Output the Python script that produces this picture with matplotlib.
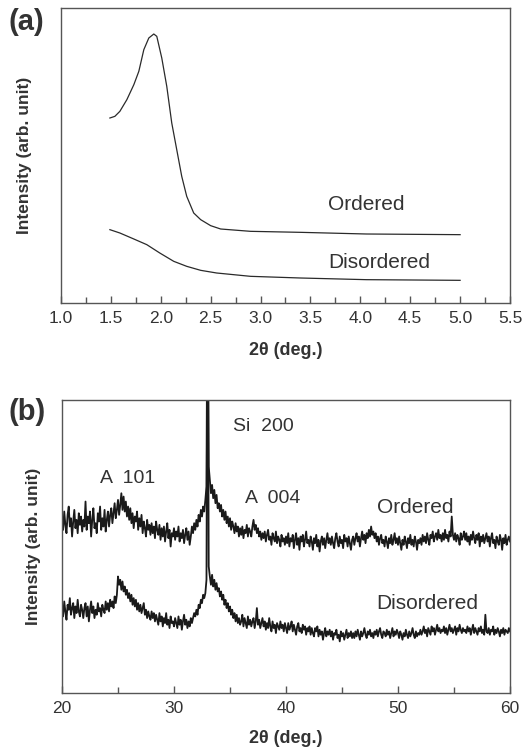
"""Small-angle and wide-angle XRD patterns: ordered vs disordered films."""

import matplotlib
matplotlib.use("Agg")
import matplotlib.pyplot as plt
import numpy as np
from matplotlib.ticker import MultipleLocator

plt.rcParams["font.family"] = ["Liberation Sans", "DejaVu Sans"]

TXT = "#333333"
SPINE = "#555555"
LINE = "#1a1a1a"

# ---- (a) small-angle XRD ----
saxs_ordered_x = [1.49, 1.54, 1.59, 1.66, 1.73, 1.78, 1.83, 1.88, 1.93, 1.96,
                  2.01, 2.06, 2.11, 2.16, 2.21, 2.26, 2.33, 2.40, 2.50, 2.60,
                  2.90, 3.40, 4.06, 5.00]
saxs_ordered_y = [555, 560, 575, 610, 655, 695, 760, 795, 807, 800,
                  735, 650, 540, 460, 380, 320, 270, 250, 232, 222,
                  215, 212, 207, 205]

saxs_disordered_x = [1.49, 1.59, 1.73, 1.86, 1.99, 2.13, 2.26, 2.40, 2.56,
                     2.90, 3.40, 4.06, 5.00]
saxs_disordered_y = [220, 210, 192, 175, 150, 125, 110, 98, 90,
                     80, 75, 70, 68]

# ---- (b) wide-angle XRD, 0.1 deg step from 20 to 60 (one row = 2 deg) ----
waxs_ordered = [
    530, 490, 545, 505, 480, 535, 560, 500, 525, 470, 515, 550, 495, 520, 480, 540, 505, 530, 485, 520,
    500, 575, 490, 530, 510, 545, 470, 520, 555, 495, 510, 480, 540, 515, 560, 490, 525, 500, 550, 485,
    520, 545, 500, 535, 555, 510, 540, 570, 525, 550, 580, 535, 565, 600, 550, 590, 545, 575, 530, 560,
    520, 555, 510, 540, 495, 530, 515, 545, 490, 525, 500, 535, 480, 515, 495, 470, 520, 490, 505, 475,
    510, 480, 500, 465, 515, 490, 475, 505, 460, 495, 470, 500, 455, 485, 510, 465, 490, 440, 480, 470,
    495, 460, 485, 470, 500, 455, 480, 465, 490, 450, 475, 495, 460, 485, 445, 470, 500, 480, 510, 490,
    520, 500, 535, 515, 550, 530, 560, 545, 580, 620, 1400, 680, 640, 600, 625, 585, 610, 570, 595, 555,
    570, 545, 565, 530, 550, 520, 545, 510, 530, 500, 525, 490, 515, 500, 480, 510, 485, 500, 470, 495,
    475, 500, 465, 490, 480, 505, 470, 495, 485, 470, 500, 520, 490, 505, 480, 495, 470, 485, 460, 480,
    465, 485, 455, 475, 490, 460, 470, 445, 480, 465, 455, 485, 450, 470, 460, 440, 475, 455, 465, 445,
    470, 450, 480, 440, 465, 455, 475, 435, 460, 480, 445, 465, 430, 470, 455, 475, 440, 460, 485, 450,
    460, 440, 470, 455, 430, 465, 450, 475, 440, 460, 425, 455, 470, 445, 465, 435, 460, 480, 450, 465,
    445, 470, 450, 435, 465, 480, 455, 440, 470, 450, 460, 435, 475, 455, 465, 440, 470, 450, 430, 460,
    470, 445, 465, 480, 455, 470, 440, 465, 485, 460, 475, 450, 480, 465, 490, 470, 500, 475, 485, 465,
    480, 455, 470, 445, 465, 475, 450, 460, 440, 470, 455, 435, 465, 450, 475, 445, 460, 480, 450, 465,
    445, 470, 450, 430, 460, 445, 470, 455, 435, 465, 450, 475, 445, 460, 440, 470, 455, 430, 460, 450,
    465, 445, 475, 455, 470, 450, 480, 460, 445, 475, 465, 485, 455, 470, 480, 460, 490, 465, 475, 455,
    480, 460, 490, 465, 475, 455, 485, 470, 530, 475, 460, 480, 455, 475, 465, 445, 480, 460, 470, 485,
    460, 480, 455, 470, 445, 475, 460, 485, 465, 450, 475, 460, 480, 440, 470, 455, 475, 450, 465, 480,
    455, 470, 440, 465, 480, 450, 460, 435, 470, 455, 445, 475, 460, 430, 465, 450, 475, 445, 460, 470,
    455,
]
waxs_disordered = [
    260, 230, 275, 245, 220, 265, 250, 285, 235, 255, 270, 225, 260, 240, 280, 245, 230, 265, 250, 225,
    255, 270, 230, 260, 215, 250, 275, 240, 260, 225, 250, 235, 270, 245, 255, 230, 265, 250, 240, 275,
    250, 270, 245, 280, 260, 275, 255, 290, 270, 295, 350, 325, 340, 310, 335, 305, 320, 295, 310, 285,
    300, 275, 295, 265, 285, 260, 280, 250, 270, 245, 265, 240, 255, 270, 235, 250, 225, 245, 230, 220,
    245, 225, 240, 215, 235, 220, 205, 240, 215, 230, 200, 225, 210, 240, 205, 220, 195, 230, 210, 215,
    200, 225, 210, 195, 230, 205, 220, 190, 215, 235, 205, 220, 195, 215, 200, 225, 210, 225, 240, 230,
    250, 235, 265, 255, 280, 270, 295, 285, 300, 340, 1400, 380, 350, 325, 355, 320, 340, 310, 330, 305,
    315, 290, 305, 280, 295, 265, 280, 255, 270, 245, 260, 235, 250, 225, 240, 215, 235, 210, 225, 205,
    215, 235, 200, 225, 210, 195, 230, 205, 220, 200, 215, 225, 195, 215, 255, 205, 220, 195, 210, 225,
    200, 215, 190, 210, 195, 225, 200, 185, 215, 195, 205, 180, 210, 200, 190, 215, 195, 205, 185, 210,
    195, 180, 210, 190, 200, 215, 185, 205, 190, 175, 200, 210, 185, 195, 180, 205, 190, 200, 175, 195,
    185, 200, 175, 195, 180, 170, 195, 185, 200, 170, 190, 175, 185, 160, 180, 195, 170, 185, 175, 190,
    170, 185, 160, 180, 175, 190, 165, 175, 155, 185, 170, 180, 160, 175, 190, 165, 180, 170, 185, 165,
    180, 165, 185, 170, 190, 175, 160, 185, 170, 180, 195, 175, 165, 185, 175, 190, 170, 180, 165, 185,
    175, 190, 170, 185, 195, 175, 165, 185, 180, 170, 190, 175, 185, 165, 180, 195, 170, 185, 175, 190,
    180, 165, 185, 175, 160, 180, 170, 190, 175, 165, 185, 170, 180, 195, 175, 165, 185, 170, 180, 175,
    190, 175, 185, 200, 180, 190, 170, 195, 185, 175, 200, 185, 195, 175, 190, 205, 185, 195, 180, 190,
    185, 200, 180, 195, 175, 190, 205, 185, 195, 180, 190, 200, 175, 195, 185, 205, 190, 180, 195, 185,
    190, 180, 200, 185, 195, 175, 190, 205, 180, 195, 185, 175, 195, 185, 200, 180, 190, 175, 235, 185,
    180, 195, 175, 190, 185, 200, 175, 190, 180, 195, 185, 170, 190, 180, 195, 175, 190, 185, 180, 195,
    185,
]
waxs_x = np.linspace(20, 60, len(waxs_ordered))


def style_axis(ax, ypad, xpad):
    for sp in ax.spines.values():
        sp.set_color(SPINE)
        sp.set_linewidth(1.0)
    ax.set_yticks([])
    ax.tick_params(axis="x", which="both", direction="in", top=False,
                   colors=SPINE, labelcolor=TXT, labelsize=12.5, pad=6)
    ax.tick_params(axis="x", which="major", length=5, width=1)
    ax.tick_params(axis="x", which="minor", length=4, width=1)
    ax.set_ylabel("Intensity (arb. unit)", fontsize=12.5, fontweight="bold",
                  color=TXT, labelpad=ypad)
    ax.set_xlabel("2\u03b8 (deg.)", fontsize=13, fontweight="bold", color=TXT,
                  labelpad=xpad)


fig = plt.figure(figsize=(5.24, 7.47), dpi=100)
ax1 = fig.add_axes([61 / 524, 1 - 303 / 747, 449 / 524, 295 / 747])
ax2 = fig.add_axes([62 / 524, 1 - 693 / 747, 448 / 524, 293 / 747])

ax1.plot(saxs_ordered_x, saxs_ordered_y, color="#2a2a2a", lw=0.9)
ax1.plot(saxs_disordered_x, saxs_disordered_y, color="#2a2a2a", lw=0.9)
ax1.set_xlim(1.0, 5.5)
ax1.set_ylim(0, 885)
ax1.xaxis.set_major_locator(MultipleLocator(0.5))
ax1.xaxis.set_minor_locator(MultipleLocator(0.25))
ax1.xaxis.set_major_formatter(lambda v, p: f"{v:.1f}")
style_axis(ax1, ypad=21, xpad=11)
ax1.text(3.68, 295, "Ordered", fontsize=15, color=TXT, va="center")
ax1.text(3.68, 120, "Disordered", fontsize=15, color=TXT, va="center")

ax2.plot(waxs_x, waxs_ordered, color=LINE, lw=1.3)
ax2.plot(waxs_x, waxs_disordered, color=LINE, lw=1.3)
ax2.set_xlim(20, 60)
ax2.set_ylim(0, 880)
ax2.xaxis.set_major_locator(MultipleLocator(10))
ax2.xaxis.set_minor_locator(MultipleLocator(5))
style_axis(ax2, ypad=15, xpad=10)
ax2.text(35.24, 800, "Si  200", fontsize=14, color=TXT, va="center")
ax2.text(23.4, 645, "A  101", fontsize=14, color=TXT, va="center")
ax2.text(36.3, 583, "A  004", fontsize=14, color=TXT, va="center")
ax2.text(48.1, 557, "Ordered", fontsize=15, color=TXT, va="center")
ax2.text(48.1, 268, "Disordered", fontsize=15, color=TXT, va="center")

fig.text(8 / 524, 1 - 22 / 747, "(a)", fontsize=21, fontweight="bold",
         color=TXT, va="center")
fig.text(8 / 524, 1 - 412 / 747, "(b)", fontsize=21, fontweight="bold",
         color=TXT, va="center")

fig.savefig("out.png", dpi=100)
